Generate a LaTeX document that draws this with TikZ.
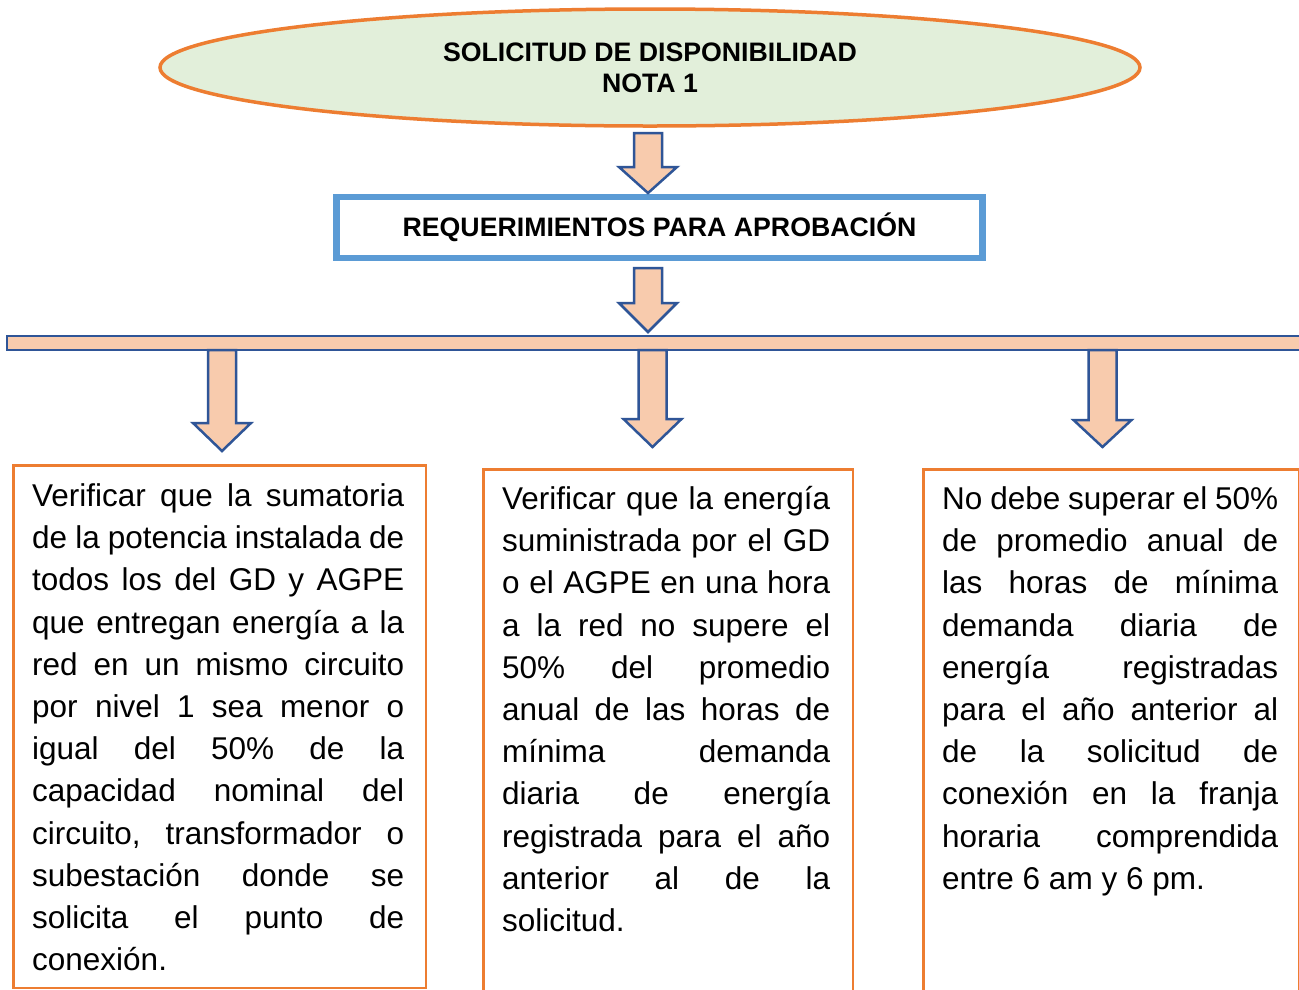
\documentclass[tikz,border=0pt]{standalone}
\usepackage{fontspec}
\setmainfont{Liberation Sans}
\usetikzlibrary{shapes.geometric}
\definecolor{orng}{HTML}{ED7D31}
\definecolor{lgreen}{HTML}{E2EFDA}
\definecolor{lblue}{HTML}{5B9BD5}
\definecolor{peach}{HTML}{F8CBAD}
\definecolor{dblue}{HTML}{2F5597}
\newlength\jlw
\newcommand\jl[1]{\hbox to \jlw{\spaceskip=.278em plus 1fill minus .12em\relax #1}}
\newcommand\lastln[1]{\hbox{#1}}
\newcommand\blockarrow[4]{%
  \begin{scope}[shift={(#1,0)}]
    \draw[arrowsty] (-14,#2) -- (14,#2) -- (14,#3) -- (29,#3) -- (0,#4) -- (-29,#3) -- (-14,#3) -- cycle;
  \end{scope}}
\tikzset{
  arrowsty/.style={fill=peach, draw=dblue, line width=2.5pt, line join=miter},
  boxsty/.style={draw=orng, line width=2.5pt, anchor=north west, inner sep=0},
  bodytext/.style={anchor=base west, inner sep=0, font=\fontsize{31.5}{42.2}\selectfont},
  headfont/.style={font=\bfseries\fontsize{26.7}{31}\selectfont},
}
\begin{document}
\begin{tikzpicture}[x=1pt, y=-1pt]
\useasboundingbox (0,0) rectangle (1299,989);
\clip (0,0) rectangle (1299,989);
\fill[white] (0,0) rectangle (1299,989);

% title ellipse
\node[ellipse, draw=orng, fill=lgreen, line width=3.5pt, minimum width=980pt, minimum height=117pt,
      inner sep=0, align=center, headfont] (title) at (650,67.5)
  {SOLICITUD DE DISPONIBILIDAD\\NOTA 1};

% requirements box
\node[draw=lblue, line width=6.5pt, minimum width=646pt, minimum height=61pt, inner sep=0,
      headfont] (req) at (659.5,227.5)
  {REQUERIMIENTOS PARA APROBACIÓN};

% arrows top
\blockarrow{648}{133}{167}{193}
\blockarrow{648}{268}{303}{332}

% horizontal bar
\draw[arrowsty] (7,336) rectangle (1320,350);

% down arrows
\blockarrow{222}{350}{423}{451}
\blockarrow{652.5}{350}{419}{447}
\blockarrow{1102.5}{350}{420}{447}

% boxes
\node[boxsty, minimum width=412.5pt, minimum height=522.5pt] (b1) at (12.25,464.25) {};
\node[boxsty, minimum width=369.5pt, minimum height=560pt] (b2) at (482.25,468.25) {};
\node[boxsty, minimum width=375.5pt, minimum height=560pt] (b3) at (922.25,468.25) {};

\node[bodytext] (t1) at (32,506.5) {\frenchspacing\setlength\jlw{372pt}\vtop{\baselineskip=42.2pt
  \jl{Verificar que la sumatoria}
  \jl{de la potencia instalada de}
  \jl{todos los del GD y AGPE}
  \jl{que entregan energía a la}
  \jl{red en un mismo circuito}
  \jl{por nivel 1 sea menor o}
  \jl{igual del 50\% de la}
  \jl{capacidad nominal del}
  \jl{circuito, transformador o}
  \jl{subestación donde se}
  \jl{solicita el punto de}
  \lastln{conexión.}}};

\node[bodytext] (t2) at (502,509.5) {\frenchspacing\setlength\jlw{328pt}\vtop{\baselineskip=42.2pt
  \jl{Verificar que la energía}
  \jl{suministrada por el GD}
  \jl{o el AGPE en una hora}
  \jl{a la red no supere el}
  \jl{50\% del promedio}
  \jl{anual de las horas de}
  \jl{mínima demanda}
  \jl{diaria de energía}
  \jl{registrada para el año}
  \jl{anterior al de la}
  \lastln{solicitud.}}};

\node[bodytext] (t3) at (942,509.5) {\frenchspacing\setlength\jlw{336pt}\vtop{\baselineskip=42.2pt
  \jl{No debe superar el 50\%}
  \jl{de promedio anual de}
  \jl{las horas de mínima}
  \jl{demanda diaria de}
  \jl{energía registradas}
  \jl{para el año anterior al}
  \jl{de la solicitud de}
  \jl{conexión en la franja}
  \jl{horaria comprendida}
  \lastln{entre 6 am y 6 pm.}}};
\end{tikzpicture}
\end{document}
